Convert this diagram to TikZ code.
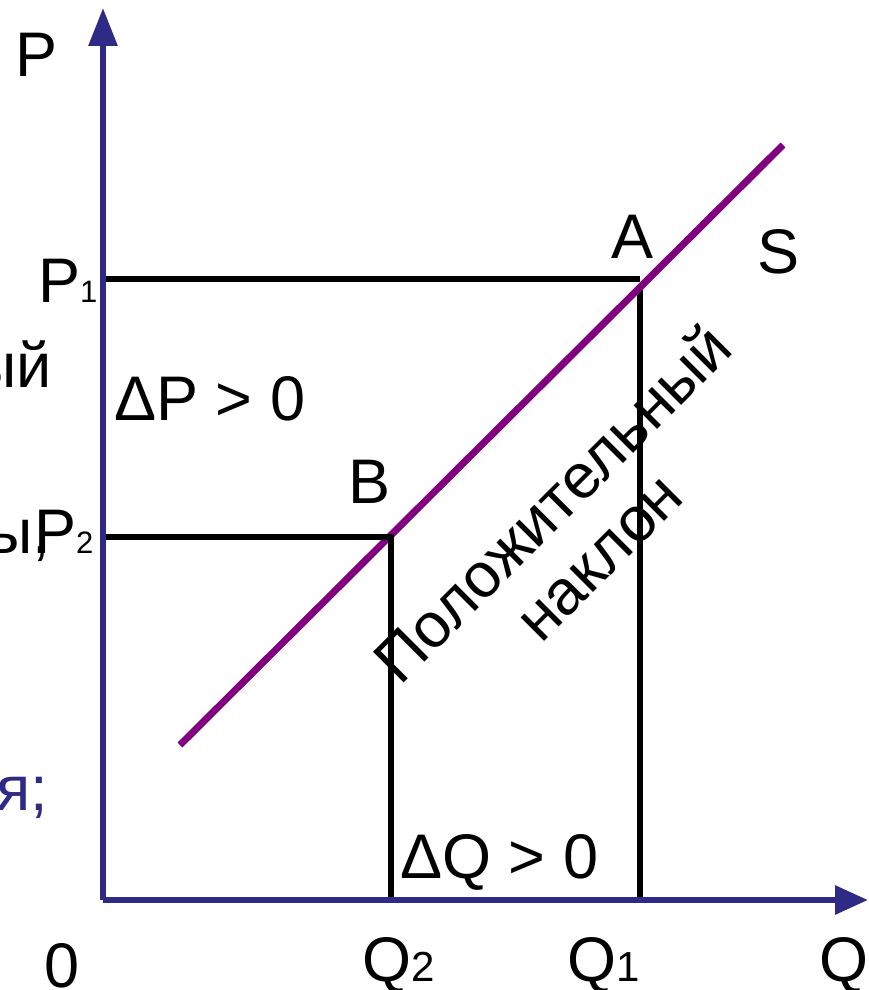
\documentclass[tikz,border=0pt]{standalone}
\usepackage{fontspec}
\setmainfont{Liberation Sans}
\usetikzlibrary{arrows.meta}
\definecolor{axisblue}{RGB}{46,42,134}
\definecolor{supply}{RGB}{128,0,128}
\begin{document}
\begin{tikzpicture}[x=1pt,y=-1pt,
  big/.style={font=\fontsize{63}{63}\selectfont, inner sep=0pt, text=black},
  lblw/.style={big, anchor=base west},
  lblc/.style={big, anchor=base},
  axisline/.style={draw=axisblue, line width=6pt},
  guide/.style={draw=black, line width=6pt},
  supplyline/.style={draw=supply, line width=7pt},
  rot/.style={big, anchor=base, rotate=45}]
\useasboundingbox (0,0) rectangle (869,990);
\clip (0,0) rectangle (869,990);
\fill[white] (0,0) rectangle (869,990);

% coordinates
\coordinate (O) at (103,900);
\coordinate (Ytip) at (103,8);
\coordinate (Xtip) at (868,900);
\coordinate (p1) at (103,279);
\coordinate (a) at (640,279);
\coordinate (a2) at (640,290);
\coordinate (q1) at (640,900);
\coordinate (p2) at (103,537);
\coordinate (b) at (391,537);
\coordinate (q2) at (391,900);
\coordinate (s0) at (180,745);
\coordinate (s1) at (783,145);

% guide lines to A
\draw[guide] (p1) -- (a);
\draw[guide] (a2) -- (q1);
% supply curve
\draw[supplyline] (s0) -- (s1);
% guide lines to B
\draw[guide] (p2) -- (b) -- (q2);

% axes
\draw[axisline, -{Triangle[length=38pt,width=28pt]}] (O) -- (Ytip);
\draw[axisline, -{Triangle[length=33pt,width=28pt]}] (O) -- (Xtip);

% labels
\node[lblw] (lP) at (15,76) {P};
\node[lblw] (lP1) at (38,302) {P{\fontsize{31}{31}\selectfont 1}};
\node[lblw] (lP2) at (34,553) {P{\fontsize{31}{31}\selectfont 2}};
\node[lblw] (dP) at (114,420) {ΔP > 0};
\node[lblw] (dQ) at (400,878) {ΔQ > 0};
\node[lblc] (lA) at (633,258) {A};
\node[lblc] (lS) at (778,273) {S};
\node[lblc] (lB) at (370,503) {B};
\node[lblc] (l0) at (62,987) {0};
\node[lblw] (lQ2) at (362,981) {Q{\fontsize{42}{42}\selectfont 2}};
\node[lblw] (lQ1) at (567,981) {Q{\fontsize{42}{42}\selectfont 1}};
\node[lblw] (lQ) at (819,981) {Q};

% rotated slope text
\node[rot] (t1) at (568,519) {Положительный};
\node[rot] (t2) at (614,572) {наклон};

% clipped fragments at the left edge
\node[big, anchor=base east] (f1) at (52,387) {ый};
\node[big, anchor=base east] (f2) at (50,553) {ы,};
\node[big, anchor=base east, text=axisblue] (f3) at (48,810) {я;};
\end{tikzpicture}
\end{document}
